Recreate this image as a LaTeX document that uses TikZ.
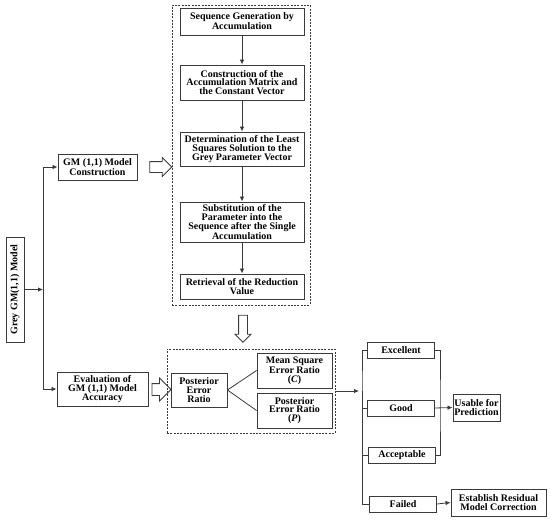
\documentclass[tikz,border=0pt]{standalone}
\usepackage{fontspec}
\setmainfont{Liberation Serif}
\usepackage{tikz}
\usetikzlibrary{arrows.meta,positioning,shapes.arrows}
\definecolor{inkline}{HTML}{3A3A3A}
\tikzset{
  stagebox/.style={
    rectangle, draw=inkline, line width=0.9pt, fill=white,
    align=center, inner sep=1pt,
    font=\fontsize{10}{8.8}\selectfont\bfseries
  },
  stepbox/.style={stagebox, minimum width=124pt},
  gradebox/.style={stagebox, minimum width=67pt, minimum height=16pt},
  groupbox/.style={rectangle, draw=inkline, line width=0.7pt, dash pattern=on 2pt off 1.3pt},
  flowarrow/.style={-{Latex[length=5pt,width=4.5pt]}, line width=0.8pt, color=inkline},
  flowline/.style={line width=0.8pt, color=inkline},
  hollowarrow/.style={
    single arrow, draw=inkline, line width=0.8pt, fill=white,
    single arrow head indent=0pt
  },
}
\begin{document}
\begin{tikzpicture}[x=1pt, y=-1pt]
  \useasboundingbox (0,0) rectangle (550,520);
  % root and its two branches
  \node[stagebox, rotate=90, minimum width=105pt, minimum height=18pt] (grey) at (15,289.5) {Grey GM(1,1) Model};
  \node[stagebox, minimum width=79pt, minimum height=26pt] (build) at (97.5,167) {GM (1,1) Model\\Construction};
  \node[stagebox, minimum width=91pt, minimum height=34pt] (evalacc) at (102.5,389) {Evaluation of\\GM (1,1) Model\\Accuracy};
  \coordinate (split) at (43,289.5);

  % construction steps
  \node[groupbox, minimum width=138pt, minimum height=300pt] (steps) at (241,155) {};
  \node[stepbox, minimum height=27pt] (seq) at (242,21.5) {Sequence Generation by\\Accumulation};
  \node[stepbox, minimum height=35pt] (accmat) at (242,82.5) {Construction of the\\Accumulation Matrix and\\the Constant Vector};
  \node[stepbox, minimum height=34pt] (lsq) at (242,149) {Determination of the Least\\Squares Solution to the\\Grey Parameter Vector};
  \node[stepbox, minimum height=40pt] (subst) at (242,222) {Substitution of the\\Parameter into the\\Sequence after the Single\\Accumulation};
  \node[stepbox, minimum height=25pt] (reduce) at (242,286.5) {Retrieval of the Reduction\\Value};

  % hollow arrows
  \node[hollowarrow, minimum height=22pt, inner xsep=0pt, inner ysep=5pt, single arrow head extend=4pt] (toSteps) at (158,167) {};
  \node[hollowarrow, minimum height=27pt, inner xsep=4pt, inner ysep=0pt, single arrow head extend=3.5pt, shape border rotate=270] (toRatio) at (243,326.5) {};
  \node[hollowarrow, minimum height=19pt, inner xsep=0pt, inner ysep=5.5pt, single arrow head extend=5.5pt] (toGroup) at (158.5,389.5) {};

  % accuracy indices
  \node[groupbox, minimum width=168pt, minimum height=84pt] (ratios) at (251,391) {};
  \node[stagebox, minimum width=56pt, minimum height=34pt] (per) at (199,390) {Posterior\\Error\\Ratio};
  \node[stagebox, minimum width=75pt, minimum height=35pt] (msr) at (294.5,370.5) {Mean Square\\Error Ratio\\(\textit{C})};
  \node[stagebox, minimum width=75pt, minimum height=35pt] (pre) at (294.5,410.5) {Posterior\\Error Ratio\\(\textit{P})};

  % grades
  \node[gradebox] (excellent) at (401,350) {Excellent};
  \node[gradebox] (good) at (401,408) {Good};
  \node[gradebox] (acceptable) at (402,455) {Acceptable};
  \node[gradebox] (failed) at (403,504) {Failed};
  \node[stagebox, minimum width=47pt, minimum height=27pt] (usable) at (476.5,407.5) {Usable for\\Prediction};
  \node[stagebox, minimum width=95pt, minimum height=27pt] (residual) at (498.5,502.5) {Establish Residual\\Model Correction};
  \coordinate (gradeL) at (362,391);
  \coordinate (gradeR) at (440,408);

  \draw[flowarrow] (grey.south) -- (split);
  \draw[flowarrow] (split) |- (build.west);
  \draw[flowarrow] (split) |- (evalacc.west);
  \draw[flowarrow] (seq) -- (accmat);
  \draw[flowarrow] (accmat) -- (lsq);
  \draw[flowarrow] (lsq) -- (subst);
  \draw[flowarrow] (subst) -- (reduce);
  \draw[flowline] (per.east) -- (msr.west);
  \draw[flowline] (per.east) -- (pre.west);
  \draw[flowarrow, shorten >=3pt] (ratios.east) -- (gradeL);
  \draw[flowline] (excellent.west) -| (gradeL) |- (failed.west);
  \draw[flowline] (gradeL) |- (good.west);
  \draw[flowline] (gradeL) |- (acceptable.west);
  \draw[flowline] (excellent.east) -| (gradeR) |- (acceptable.east);
  \draw[flowarrow] (good.east) -- (usable.west);
  \draw[flowarrow] (failed.east) -- (residual.west);
\end{tikzpicture}
\end{document}
